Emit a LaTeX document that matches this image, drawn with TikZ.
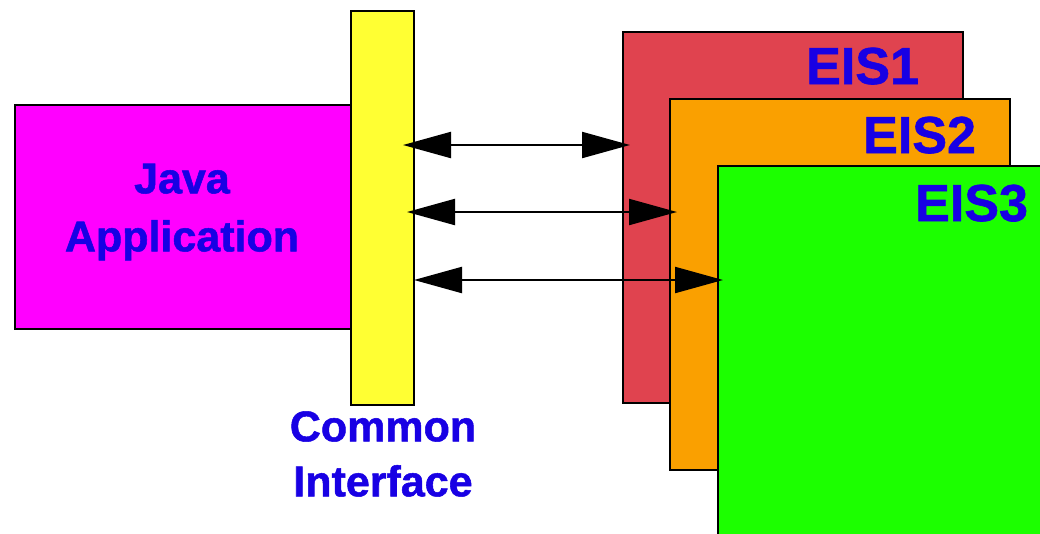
\documentclass[tikz,border=0pt]{standalone}
\usepackage{fontspec}
\setmainfont{Liberation Sans}[BoldFont={Liberation Sans Bold}, BoldFeatures={FakeBold=1.2}]
\usetikzlibrary{arrows.meta}
\definecolor{txtblue}{RGB}{24,0,228}
\definecolor{javamag}{RGB}{255,0,255}
\definecolor{ifyellow}{RGB}{255,255,51}
\definecolor{eisred}{RGB}{224,67,79}
\definecolor{eisorange}{RGB}{250,160,0}
\definecolor{eisgreen}{RGB}{28,255,0}
\tikzset{
  box/.style={draw=black, line width=2pt, rectangle, inner sep=0pt, anchor=north west},
  lbl/.style={text=txtblue, font=\bfseries\fontsize{43}{58}\selectfont, align=center, inner sep=0pt},
  eislbl/.style={text=txtblue, font=\bfseries\fontsize{52}{60}\selectfont, inner sep=0pt, anchor=base west},
  link/.style={line width=2.2pt, {Triangle[length=48pt,width=26pt]}-{Triangle[length=48pt,width=26pt]}}
}
\begin{document}
\begin{tikzpicture}[x=1pt,y=-1pt]
\useasboundingbox (0,0) rectangle (1040,533);
\clip (0,0) rectangle (1040,533);
\fill[white] (0,0) rectangle (1040,533);
% Java application
\node[box, fill=javamag, minimum width=336pt, minimum height=224pt] (java) at (14,104) {};
\node[lbl] (javatxt) at (182,212) {Java\\Application};
% common interface bar
\node[box, fill=ifyellow, minimum width=63pt, minimum height=394pt] (bar) at (350,10) {};
\node[lbl, font=\bfseries\fontsize{43}{55}\selectfont] (bartxt) at (383,454) {Common\\Interface};
% EIS boxes
\node[box, fill=eisred, minimum width=340pt, minimum height=371pt] (eis1) at (622,31) {};
\node[eislbl] (eis1txt) at (806,84) {EIS1};
\node[box, fill=eisorange, minimum width=340pt, minimum height=371pt] (eis2) at (669,98) {};
\node[eislbl] (eis2txt) at (863,153) {EIS2};
\node[box, fill=eisgreen, minimum width=340pt, minimum height=380pt] (eis3) at (717,165) {};
\node[eislbl] (eis3txt) at (915,221) {EIS3};
% connector ends
\coordinate (a1) at (403,145);
\coordinate (b1) at (630,145);
\coordinate (a2) at (407,212);
\coordinate (b2) at (677,212);
\coordinate (a3) at (414,280);
\coordinate (b3) at (723,280);
\draw[link] (a1) -- (b1);
\draw[link] (a2) -- (b2);
\draw[link] (a3) -- (b3);
\end{tikzpicture}
\end{document}
